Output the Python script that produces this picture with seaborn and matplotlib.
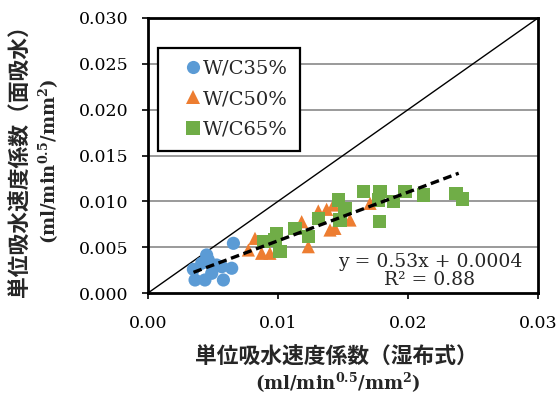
import matplotlib
matplotlib.use("Agg")
import matplotlib.pyplot as plt
import numpy as np
import pandas as pd
import seaborn as sns

# Wet-cloth method (x) vs. surface absorption (y) coefficients
wc35_x = [0.00657, 0.00451, 0.00349, 0.00362, 0.00438, 0.00490, 0.00567,
          0.00580, 0.00644, 0.00413, 0.00464, 0.00528]
wc35_y = [0.00542, 0.00415, 0.00258, 0.00142, 0.00142, 0.00215, 0.00287,
          0.00142, 0.00270, 0.00324, 0.00360, 0.00305]

wc50_x = [0.00823, 0.00772, 0.00874, 0.00938, 0.01182, 0.01233, 0.01310,
          0.01374, 0.01400, 0.01426, 0.01438, 0.01554, 0.01708]
wc50_y = [0.00596, 0.00469, 0.00433, 0.00433, 0.00778, 0.00505, 0.00895,
          0.00913, 0.00687, 0.00960, 0.00705, 0.00796, 0.00978]

wc65_x = [0.00887, 0.00977, 0.00990, 0.01015, 0.01131, 0.01233, 0.01310,
          0.01464, 0.01515, 0.01477, 0.01656, 0.01785, 0.01772, 0.01887,
          0.01977, 0.02118, 0.01779, 0.02369, 0.02421]
wc65_y = [0.00560, 0.00578, 0.00651, 0.00451, 0.00705, 0.00614, 0.00815,
          0.01015, 0.00924, 0.00796, 0.01105, 0.01105, 0.01015, 0.00996,
          0.01105, 0.01069, 0.00778, 0.01088, 0.01025]

series_names = ["W/C35%", "W/C50%", "W/C65%"]
series_colors = ["#5B9BD5", "#ED7D31", "#70AD47"]

# Linear fit over all data
slope = 0.53
intercept = 0.0004
r_squared = 0.88
fit_x_range = [0.0035, 0.0239]

x_ticks = [0.00, 0.01, 0.02, 0.03]
y_ticks = [0.000, 0.005, 0.010, 0.015, 0.020, 0.025, 0.030]

df = pd.DataFrame({
    "x": wc35_x + wc50_x + wc65_x,
    "y": wc35_y + wc50_y + wc65_y,
    "series": [series_names[0]] * len(wc35_x)
              + [series_names[1]] * len(wc50_x)
              + [series_names[2]] * len(wc65_x),
})

sns.set_theme(style="white")
plt.rcParams["font.family"] = ["DejaVu Serif", "Noto Sans CJK JP"]
plt.rcParams["mathtext.fontset"] = "dejavuserif"

fig = plt.figure(figsize=(5.6, 3.97), dpi=100)
ax = fig.add_axes([148 / 560, 1 - 293 / 397, 390 / 560, 275 / 397])

ax.set_xlim(0, 0.03)
ax.set_ylim(0, 0.03)

# horizontal gridlines
for yt in y_ticks[1:-1]:
    ax.axhline(yt, color="#7f7f7f", lw=1.1, zorder=0)

# 1:1 reference line
ax.plot([0, 0.03], [0, 0.03], color="black", lw=1.0, zorder=1)

sns.scatterplot(
    data=df, x="x", y="y", hue="series", style="series",
    hue_order=series_names, style_order=series_names,
    palette=dict(zip(series_names, series_colors)),
    markers={series_names[0]: "o", series_names[1]: "^", series_names[2]: "s"},
    s=90, linewidth=0, ax=ax, zorder=3, legend=True,
)

fx = np.array(fit_x_range)
ax.plot(fx, slope * fx + intercept, color="black", lw=2.4,
        dashes=(2.6, 1.4), zorder=4)

ax.text(0.02169, 0.0024, f"y = {slope}x + {intercept}\nR² = {r_squared}",
        ha="center", va="center", fontsize=13.5, linespacing=1.0, zorder=5)

ax.set_xticks(x_ticks)
ax.set_xticklabels([f"{v:.2f}" for v in x_ticks])
ax.set_yticks(y_ticks)
ax.set_yticklabels([f"{v:.3f}" for v in y_ticks])
ax.tick_params(axis="both", direction="out", length=4, width=1.2,
               labelsize=12.5, colors="black", bottom=True, left=True)
ax.tick_params(axis="x", pad=12)
ax.tick_params(axis="y", pad=10)
ax.set_xlabel("")
ax.set_ylabel("")

for sp in ax.spines.values():
    sp.set_color("black")
    sp.set_linewidth(2.0)

leg = ax.legend(loc="upper left", bbox_to_anchor=(0.026, 0.891),
                borderaxespad=0, fontsize=14, frameon=True, fancybox=False,
                edgecolor="black", framealpha=1, borderpad=0.6,
                labelspacing=0.65, handletextpad=-0.65, handlelength=2.37,
                markerscale=1.0)
leg.get_frame().set_linewidth(1.6)
leg.set_zorder(6)

cjk = ["Noto Sans CJK JP", "DejaVu Serif"]
unit = r"(ml/min$^{\mathbf{0.5}}$/mm$^{\mathbf{2}}$)"

fig.text(336 / 560, 1 - 357 / 397, "単位吸水速度係数（湿布式）",
         ha="center", va="center", fontsize=15.7, fontweight="bold", family=cjk)
fig.text(338 / 560, 1 - 383 / 397, unit,
         ha="center", va="center", fontsize=13, fontweight="bold",
         family="DejaVu Serif")

fig.text(20 / 560, 1 - 156 / 397, "単位吸水速度係数（面吸水）",
         ha="center", va="center", rotation=90, fontsize=15.7,
         fontweight="bold", family=cjk)
fig.text(49 / 560, 1 - 161 / 397, unit,
         ha="center", va="center", rotation=90, fontsize=13,
         fontweight="bold", family="DejaVu Serif")

fig.savefig("out.png", dpi=100)
